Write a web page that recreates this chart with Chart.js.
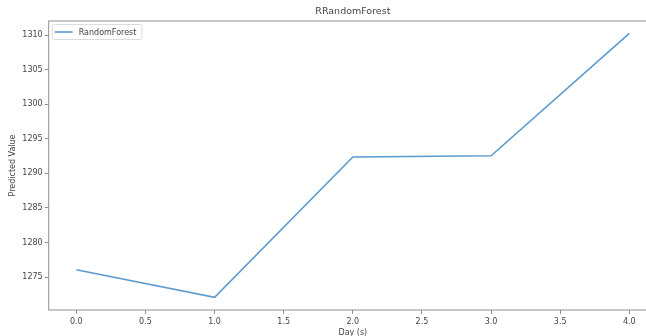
<!DOCTYPE html>
<html>
<head>
<meta charset="utf-8">
<script src="https://cdn.jsdelivr.net/npm/chart.js@4"></script>
<style>
body{margin:0;width:646px;height:336px;overflow:hidden;background:#fff}
#wrap{width:660px;height:336px}
</style>
</head>
<body>
<div id="wrap"><canvas id="c"></canvas></div>
<script>
// values
const days=[0,1,2,3,4];
const predicted=[1276.06,1272.06,1292.36,1292.54,1310.24];
const xTicks=[0,0.5,1,1.5,2,2.5,3,3.5,4];
const yTicks=[1275,1280,1285,1290,1295,1300,1305,1310];
const seriesName='RandomForest';
const chartTitle='RRandomForest';

const FONT='DejaVu Sans';
const txt='#444';
const spine='#909090';

// matplotlib-ish frame, title and legend
const frame={
  id:'frame',
  afterDatasetsDraw(chart){
    const {ctx,chartArea:a}=chart;
    ctx.save();
    ctx.strokeStyle=spine;ctx.lineWidth=1;
    ctx.strokeRect(a.left,a.top,a.right-a.left,a.bottom-a.top);

    ctx.fillStyle=txt;
    ctx.font='9.5px "'+FONT+'"';
    ctx.textAlign='center';ctx.textBaseline='middle';
    ctx.fillText(chartTitle,(a.left+a.right)/2,12);

    const ds=chart.data.datasets[0];
    ctx.font='8px "'+FONT+'"';
    const w=ctx.measureText(ds.label).width;
    const x0=a.left+3.5,y0=a.top+3.5,h=15,bw=w+32;
    ctx.beginPath();
    ctx.roundRect(x0,y0,bw,h,2);
    ctx.fillStyle='rgba(255,255,255,0.85)';ctx.fill();
    ctx.strokeStyle='#dcdcdc';ctx.stroke();
    ctx.beginPath();
    ctx.moveTo(x0+2.5,y0+h/2);ctx.lineTo(x0+20.5,y0+h/2);
    ctx.strokeStyle=ds.borderColor;ctx.lineWidth=ds.borderWidth;ctx.stroke();
    ctx.fillStyle=txt;ctx.textAlign='left';
    ctx.fillText(ds.label,x0+26.5,y0+h/2+0.5);
    ctx.restore();
  }
};

new Chart(document.getElementById('c'),{
  type:'line',
  data:{
    datasets:[{
      label:seriesName,
      data:days.map((d,i)=>({x:d,y:predicted[i]})),
      borderColor:'#5a9bd0',
      borderWidth:1.6,
      pointRadius:0,
      tension:0,
      fill:false
    }]
  },
  options:{
    responsive:true,
    maintainAspectRatio:false,
    animation:false,
    layout:{padding:{top:21,right:3,left:0,bottom:0}},
    plugins:{legend:{display:false},title:{display:false},tooltip:{enabled:false}},
    scales:{
      x:{
        type:'linear',min:-0.2,max:4.2,
        afterBuildTicks:s=>{s.ticks=xTicks.map(v=>({value:v}))},
        afterFit:s=>{s.height=26},
        grid:{drawOnChartArea:false,drawTicks:true,tickLength:4,color:spine},
        border:{display:false},
        ticks:{padding:3,color:txt,font:{size:8,family:FONT},maxRotation:0,autoSkip:false,
          callback:v=>v.toFixed(1)},
        title:{display:true,text:'Day (s)',color:txt,font:{size:8,family:FONT},padding:{top:0,bottom:-2}}
      },
      y:{
        min:1270.23,max:1312.03,
        afterBuildTicks:s=>{s.ticks=yTicks.map(v=>({value:v}))},
        afterFit:s=>{s.width=48.7},
        grid:{drawOnChartArea:false,drawTicks:true,tickLength:4,color:spine},
        border:{display:false},
        ticks:{padding:2,color:txt,font:{size:8,family:FONT},autoSkip:false,callback:v=>v},
        title:{display:true,text:'Predicted Value',color:txt,font:{size:8,family:FONT},padding:{top:8.5,bottom:0}}
      }
    }
  },
  plugins:[frame]
});
</script>
</body>
</html>
